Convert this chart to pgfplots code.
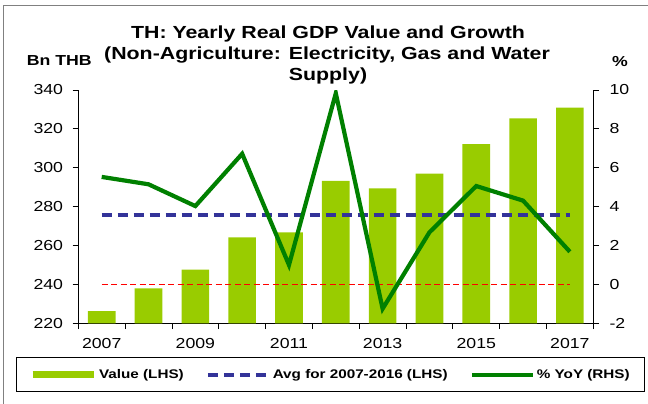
\documentclass[border=0pt]{standalone}
\usepackage{pgfplots}
\pgfplotsset{compat=1.18}
\usepackage{pgfplotstable}
\usepackage{fontspec}
\setmainfont{Liberation Sans}[FakeStretch=1.22]
\definecolor{barcol}{HTML}{99CC00}
\definecolor{avgcol}{HTML}{333399}
\definecolor{yoycol}{HTML}{008000}
\definecolor{zerocol}{HTML}{FF0000}
\definecolor{framecol}{HTML}{808080}

\pgfplotstableread{
x year value yoy
0 2007 226.3 5.53
1 2008 238.0 5.15
2 2009 247.6 4.03
3 2010 264.2 6.72
4 2011 266.8 1.00
5 2012 293.2 9.83
6 2013 289.4 -1.25
7 2014 297.0 2.68
8 2015 312.1 5.06
9 2016 325.4 4.31
10 2017 330.9 1.68
}\data

\pgfplotsset{
  base/.style={
    scale only axis, width=515bp, height=233.3bp,
    at={(78.3bp,-323.3bp)}, anchor=south west,
    xmin=-0.5, xmax=10.5,
    /pgf/number format/assume math mode=true,
    tick label style={font=\fontsize{14.5bp}{17bp}\selectfont},
    axis line style={black, line width=0.8bp},
  },
  ticks/.style={
    tick align=outside,
    major tick length=5.7bp,
    minor tick length=5.7bp,
    tick style={black, line width=0.8bp},
  }
}

\begin{document}
\begin{tikzpicture}
\useasboundingbox (0,0) rectangle (648bp,-404bp);
\draw[framecol, line width=1bp] (3.3bp,-410bp) -- (3.3bp,-5.3bp) -- (660bp,-5.3bp);

\node[anchor=base, font=\bfseries\fontsize{17.5bp}{20bp}\selectfont, inner sep=0] at (328bp,-38.3bp) {TH: Yearly Real GDP Value and Growth};
\node[anchor=base, font=\bfseries\fontsize{17.5bp}{20bp}\selectfont, inner sep=0] at (327bp,-59.5bp) {(Non-Agriculture: Electricity, Gas and Water};
\node[anchor=base, font=\bfseries\fontsize{17.5bp}{20bp}\selectfont, inner sep=0] at (328bp,-80bp) {Supply)};
\node[anchor=base west, font=\bfseries\fontsize{14.5bp}{16bp}\selectfont, inner sep=0] at (26.7bp,-65bp) {Bn THB};
\node[anchor=base, font=\bfseries\fontsize{14.5bp}{16bp}\selectfont, inner sep=0] at (620bp,-66.7bp) {\%};

\begin{axis}[base,
  axis y line*=left, axis x line*=bottom,
  ticks,
  ymin=220, ymax=340, ytick={220,240,...,340},
  xtick={0,2,...,10}, xticklabels={2007,2009,2011,2013,2015,2017},
  minor xtick={-0.5,0.5,...,10.5},
  major x tick style={draw=none},
  yticklabel style={xshift=-6bp},
  xticklabel style={yshift=-6bp},
]
\addplot[ybar, bar width=0.59, bar shift=0pt, fill=barcol, draw=none] table[x=x,y=value]{\data};
\addplot[avgcol, line width=4bp, dash pattern=on 10bp off 6bp] coordinates {(0,275.9) (10,275.9)};
\end{axis}

\begin{axis}[base,
  axis y line*=right, axis x line=none,
  ticks,
  ymin=-2, ymax=10, ytick={-2,0,...,10},
  yticklabel style={xshift=7bp},
  legend columns=3,
  legend image code/.code={\draw[#1] (0bp,0bp) -- (61bp,0bp);},
  legend style={at={(-0.1216,-0.2957)}, anchor=south west, draw=black, line width=0.8bp,
    font=\bfseries\fontsize{12.5bp}{14bp}\selectfont,
    inner xsep=13bp, inner ysep=10bp,
    /tikz/every even column/.append style={column sep=20bp}},
]
\addlegendimage{barcol, line width=7bp}
\addlegendentry{Value (LHS)}
\addlegendimage{avgcol, line width=4bp, dash pattern=on 10bp off 6bp}
\addlegendentry{Avg for 2007-2016 (LHS)}
\addplot[zerocol, line width=1.6bp, dash pattern=on 6bp off 3.5bp, forget plot] coordinates {(0,0) (10,0)};
\addplot[yoycol, line width=4.2bp] table[x=x,y=yoy]{\data};
\addlegendentry{\% YoY (RHS)}
\end{axis}
\end{tikzpicture}
\end{document}
